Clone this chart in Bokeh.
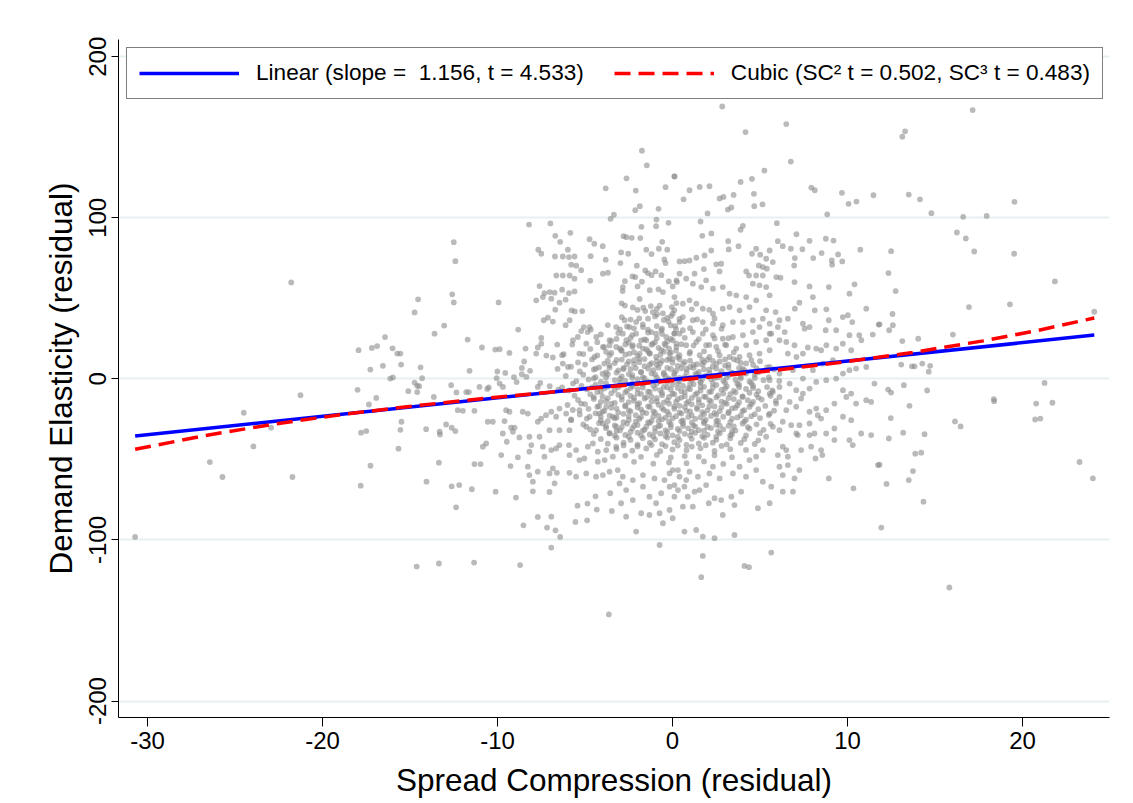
import math
from bokeh.plotting import figure
from bokeh.models import Range1d, FixedTicker, Legend, LegendItem
from bokeh.embed import file_html
from bokeh.resources import INLINE

FONT = "Liberation Sans"

# ---------------- data ----------------
x_ticks = [-30, -20, -10, 0, 10, 20]
x_tick_labels = ["-30", "-20", "-10", "0", "10", "20"]
y_ticks = [-200, -100, 0, 100, 200]
y_tick_labels = ["-200", "-100", "0", "100", "200"]

# fitted lines
fit_x = [-30.71, 24.10]
linear_y = [-35.5, 27.2]
cubic_x = [-30.71, -26.67, -22.63, -18.60, -14.56, -10.52, -6.48, -2.44, 1.60, 5.64, 9.68, 13.72, 17.75, 20.78, 24.10]
cubic_y = [-43.7, -35.1, -27.8, -21.7, -16.5, -11.9, -7.7, -3.7, 0.5, 5.1, 10.3, 16.4, 23.6, 29.9, 37.8]

linear_label = "Linear (slope =  1.156, t = 4.533)"
cubic_label = "Cubic (SC\u00b2 t = 0.502, SC\u00b3 t = 0.483)"

# scatter: upper-left part
ul_x = [
    -3.82, -3.54, -3.35, -8.20, -6.98, -6.70, -6.42, -5.84, -4.74, -4.47,
    -3.99, -7.67, -7.50, -5.98, -6.72, -6.27, -5.92, -5.60, -4.68, -3.82,
    -5.79, -5.50, -5.22, -6.64, -6.27, -5.88, -5.60, -4.70, -3.98, -3.69,
    -7.60, -7.79, -7.41, -7.32, -7.02, -6.74, -6.31, -5.92, -5.60, -6.93,
    -6.46, -6.11, -6.70, -5.77, -5.58, -5.16, -7.36, -7.12, -6.84, -6.11,
    -5.88, -8.82, -9.94, -12.50, -12.41, -12.59, -12.50, -14.54, -14.74, -13.60,
    -13.05, -11.71, -10.89, -10.13, -9.88, -9.32, -21.79, -21.26, -17.94, -17.18,
    -16.88, -16.43, -16.00, -15.73, -15.55, -15.51, -17.27, -16.55, -16.13, -15.98,
    -14.40, -14.31, -14.74, -14.59, -14.48, -15.10, -14.59, -18.00, -16.93, -12.65,
    -11.60, -12.35, -11.79, -11.64, -13.64, -11.03, -10.59, -10.50, -10.05, -10.01,
    -9.56, -9.88, -9.69, -9.06, -8.91, -8.61, -8.35, -8.14, -8.48, -8.61,
    -8.40, -7.79, -7.70, -7.50, -7.50, -7.21, -6.84, -6.59, -6.31, -6.22,
    -6.27, -6.57, -5.98, -5.73, -5.41, -5.22, -5.07, -4.85, -4.67, -7.56,
    -7.70, -7.02, -6.53, -6.31, -5.69,
]
ul_y = [
    118.3, 99.4, 101.9, 95.8, 96.5, 88.8, 85.1, 90.7, 86.7, 83.9,
    82.4, 80.2, 77.7, 80.2, 76.0, 76.0, 75.6, 76.0, 76.2, 74.0,
    70.9, 70.3, 67.5, 64.2, 64.2, 64.2, 62.2, 61.0, 65.3, 65.9,
    57.6, 48.8, 50.8, 53.3, 53.9, 53.5, 55.4, 53.3, 54.3, 49.8,
    47.3, 49.2, 43.0, 42.6, 41.9, 42.1, 36.4, 38.0, 35.6, 33.3,
    36.4, 30.6, 47.5, 84.9, 73.1, 52.5, 47.5, 49.4, 41.3, 28.1,
    33.1, 24.4, 19.5, 18.2, 18.4, 16.1, 59.9, -10.1, 17.8, 19.2,
    20.4, 26.0, 19.0, 15.7, 15.7, 8.9, 5.8, 8.1, 0.2, 0.9,
    7.2, 0.4, -2.3, -4.3, -4.5, -7.6, -8.2, -6.8, -11.8, -3.9,
    5.0, -8.4, -8.2, -8.2, -11.2, -5.0, -6.2, -5.3, 0.4, 4.6,
    3.7, -2.9, -5.0, 1.1, -2.0, 2.9, 1.2, 5.0, 10.8, 6.8,
    18.8, 15.7, 19.5, 25.4, 21.9, 14.5, 13.3, 21.3, 14.7, 15.3,
    9.5, 6.2, 7.4, 21.3, 26.0, 29.7, 32.2, 29.1, 30.6, -2.5,
    -5.0, -4.5, -6.6, -5.3, -2.9,
]

# scatter: lower-left part
ll_x = [
    -30.71, -24.50, -23.95, -26.44, -25.72, -21.72, -22.94, -17.35, -17.80, -17.50,
    -17.26, -17.82, -15.66, -15.55, -15.49, -14.08, -13.35, -14.06, -13.29, -13.31,
    -12.94, -12.62, -12.41, -12.62, -12.19, -12.37, -11.47, -10.11, -12.27, -11.98,
    -14.62, -13.35, -11.34, -8.71, -3.64, -8.52, -7.70, -6.93, -7.17, -6.69,
    -6.42, -6.93, -5.55, -4.88, -4.33, -3.47, -4.40, -4.86, -5.43, -8.95,
    -7.98, -7.03, -7.98, -6.74, -3.56,
]
ll_y = [
    -98.1, -21.0, -41.9, -51.6, -60.9, -60.9, -30.3, -15.9, -33.4, -32.4,
    -53.9, -66.3, -43.3, -31.6, -26.6, -31.2, -52.0, -63.8, -34.5, -32.8,
    -28.3, -30.3, -32.4, -66.7, -65.9, -79.7, -68.5, -70.0, -19.4, -19.8,
    -116.5, -114.6, -114.0, -115.6, -146.2, -90.9, -85.7, -85.5, -92.3, -94.0,
    -98.1, -104.7, -88.8, -87.8, -81.1, -82.0, -72.9, -77.4, -78.7, -73.7,
    -69.8, -70.2, -63.8, -64.8, -71.0,
]

# scatter: lower-middle part
lm_x = [
    -11.32, -10.56, -10.27, -9.60, -9.23, -9.03, -9.51, -9.32, -9.70, -9.47,
    -9.12, -10.84, -10.65, -11.32, -10.97, -9.79, -9.26, -8.84, -8.75, -8.56,
    -8.27, -7.70, -7.51, -7.23, -6.93, -6.65, -6.46, -6.08, -5.79, -5.32,
    -5.22, -8.18, -7.60, -8.07, -8.18, -7.41, -7.32, -6.93, -6.65, -6.46,
    -5.92, -5.89, -5.51, -5.32, -5.04, -4.84, -4.55, -4.27, -4.27, -3.88,
    -3.79, -3.41, -3.22, -8.27, -8.18, -7.70, -7.03, -6.84, -6.61, -5.89,
    -5.51, -4.93, -4.37, -3.98, -3.60, -3.13, -4.37, -4.93, -3.98, -3.60,
    -3.22, -4.74, -4.18, -3.79, -3.41, -5.89, -6.46, -7.03, -3.03, -2.65,
    -2.27, -1.69, -1.32, -0.94, -0.65, -0.17, 0.11, -0.17, -0.74, -1.32,
    -1.79, -2.08, -0.74, -2.65, -2.94, -0.55, 0.01, -0.46, -1.03, -1.69,
    -2.27, -2.84, -0.17, 0.31,
]
lm_y = [
    -19.8, -26.6, -26.6, -26.2, -30.2, -30.2, -19.4, -20.4, -33.9, -39.0,
    -32.8, -42.1, -40.1, -52.9, -52.9, -47.3, -54.1, -48.7, -36.3, -20.4,
    -21.5, -26.6, -24.6, -22.5, -20.4, -23.5, -18.4, -21.5, -25.6, -19.4,
    -15.3, -35.9, -35.9, -41.1, -45.2, -42.1, -48.3, -44.2, -43.2, -41.1,
    -41.1, -47.3, -44.2, -50.4, -49.4, -42.1, -40.1, -45.2, -51.4, -50.4,
    -44.2, -48.3, -42.1, -54.5, -59.7, -57.6, -58.7, -55.6, -58.3, -58.3,
    -60.7, -58.7, -60.7, -59.7, -57.6, -56.6, -31.8, -29.7, -27.7, -33.9,
    -29.7, -23.5, -21.5, -17.3, -23.5, -31.8, -31.8, -31.8, -64.9, -69.0,
    -75.2, -66.9, -73.1, -77.2, -71.0, -66.9, -73.1, -81.4, -83.4, -84.5,
    -83.4, -94.8, -103.1, -85.5, -77.2, -89.6, -86.5, -62.8, -61.8, -59.7,
    -62.8, -60.7, -58.7, -56.6,
]

# scatter: upper-middle part (left of zero)
um_x = [
    -1.75, -1.47, -2.63, 0.11, -0.40, -2.10, -2.13, -1.87, -0.80, -0.92,
    -0.23, -1.78, -0.94, -2.80, -2.64, -2.33, -1.84, -0.59, -0.78, -0.30,
    -1.50, -1.20, -2.94, -2.53, -0.47, -0.40, -2.98, -2.04, -1.56, -1.41,
    -0.97, -0.64, -1.20, -2.29, -2.13, -1.75, -2.72, -0.21, 0.25, -2.84,
    -2.85, -1.30, -0.80, -0.55, 0.01, -2.00, -2.91, -2.72, -1.88, -2.27,
    -1.67, -1.24, -0.74, -1.56, -1.13, -0.88, -0.55, -0.04, 0.22, -0.08,
    -0.23, 0.15, 0.40, -2.74, -2.46, -2.08, -1.69, -1.22, -0.94, -0.64,
    -0.36, 0.01, -1.50, -1.13, -2.64, -2.27, -2.08, 0.22, -0.17, -0.64,
    -1.31, -1.88, -2.46, -2.94, -2.84, 0.40, -0.46, -1.69, -0.94, -0.17,
    0.31, -4.74, -4.36, -3.60, -3.22, -3.98, -4.93, -5.32, -3.60, -4.46,
    -3.22, -5.69,
]
um_y = [
    141.7, 132.6, 124.5, 125.8, 119.0, 116.9, 104.7, 107.2, 105.6, 98.9,
    96.9, 94.4, 94.8, 88.6, 88.0, 87.6, 87.4, 85.1, 80.8, 80.2,
    80.2, 77.5, 78.5, 77.7, 74.2, 71.9, 71.9, 70.3, 67.3, 65.7,
    66.7, 64.4, 64.4, 63.6, 63.2, 60.3, 60.7, 60.5, 60.1, 57.0,
    54.5, 55.1, 55.6, 53.9, 57.4, 57.4, 46.9, 45.5, 49.6, 44.4,
    44.2, 45.2, 45.5, 42.1, 41.5, 40.1, 40.7, 44.6, 47.1, 39.0,
    35.6, 32.8, 35.3, 36.4, 32.2, 35.3, 32.2, 29.1, 28.1, 30.2,
    26.0, 24.0, 24.0, 21.9, 24.0, 20.9, 28.1, 19.8, 15.7, 17.8,
    15.7, 15.7, 15.7, 17.8, 28.1, 28.1, 21.9, 18.8, 13.6, 12.6,
    13.6, 32.2, 26.0, 24.0, 32.2, 19.8, 21.9, 15.7, 14.7, 13.6,
    19.8, 24.0,
]

# scatter: upper-right of zero
ur_x = [
    0.11, 0.63, 0.97, 1.55, 2.11, 2.00, 2.69, 2.91, 3.49, 3.16,
    3.36, 3.89, 4.54, 5.25, 6.76, 4.65, 4.67, 5.14, 7.93, 8.13,
    9.68, 10.06, 10.51, 11.48, 8.84, 1.60, 1.70, 2.22, 3.89, 4.02,
    5.96, 7.08, 7.83, 8.76, 9.20, 10.73, 3.18, 3.21, 3.77, 2.21,
    4.54, 4.78, 5.01, 5.55, 6.02, 6.30, 6.76, 7.42, 6.99, 6.95,
    8.04, 8.52, 9.10, 9.12, 9.70, 9.46, 0.40, 0.69, 0.97, 1.36,
    1.83, 2.50, 2.78, 2.69, 1.79, 1.26, 0.40, 4.21, 4.37, 4.78,
    5.16, 5.16, 4.93, 5.39, 5.73, 5.35, 5.93, 6.17, 6.97, 7.83,
    8.02, 8.93, 10.40, 11.07, 10.11, 10.02, 10.27, 9.73, 7.25, 8.13,
    8.79, 8.93, 8.75, 9.35, 10.11, 10.67, 11.44, 10.79, 11.78, 7.45,
    7.55, 7.83, 8.21, 8.49, 8.79, 9.35, 9.73, 10.21, 6.59, 6.99,
    6.11, 5.89, 5.35, 5.55, 5.64, 6.02, 6.41, 6.50, 6.97, 7.45,
    7.73, 7.08, 6.59,
]
ur_y = [
    125.6, 111.5, 117.1, 119.2, 119.6, 102.7, 112.0, 113.0, 114.2, 105.1,
    106.4, 122.3, 124.2, 129.3, 134.9, 114.9, 107.2, 108.4, 118.8, 117.1,
    115.5, 108.7, 110.1, 114.0, 102.2, 97.7, 88.8, 90.3, 92.6, 95.0,
    96.7, 89.8, 85.7, 87.0, 85.9, 80.2, 85.5, 80.4, 82.4, 79.7,
    77.7, 80.8, 77.1, 79.7, 85.5, 82.4, 80.8, 80.5, 75.0, 70.4,
    75.0, 78.1, 73.5, 70.9, 72.9, 77.3, 72.9, 73.1, 73.5, 75.2,
    76.6, 71.1, 71.5, 66.7, 68.2, 65.3, 65.3, 66.7, 64.2, 64.2,
    64.2, 69.4, 70.4, 68.4, 72.5, 74.6, 63.2, 62.8, 60.1, 57.4,
    50.8, 57.0, 58.7, 43.6, 52.9, 39.5, 35.3, 38.4, 47.3, 42.6,
    43.2, 36.4, 30.2, 30.2, 27.1, 27.1, 27.5, 24.0, 33.7, 34.3,
    31.2, 32.2, 18.8, 17.8, 20.9, 18.8, 21.9, 17.8, 37.4, 43.6,
    36.4, 41.5, 42.6, 34.3, 28.1, 32.2, 29.1, 22.9, 20.9, 15.7,
    19.5, 13.6, 15.7,
]

# scatter: dense band just above the fit, right of zero
ud_x = [
    0.22, 0.78, 1.16, 1.64, 1.92, 2.31, 2.87, 3.26, 3.64, 4.21,
    4.59, 4.97, 5.35, 5.55, 4.78, 4.40, 3.83, 3.26, 2.87, 2.31,
    1.73, 1.36, 0.97, 0.59, 0.11, 0.01, 0.59, 1.16, 1.73, 2.31,
    2.87, 3.45, 4.02, 4.59, 5.16, 4.97, 4.59, 4.02, 3.45, 2.87,
    2.31, 1.73, 1.16, 0.59, 0.11, 0.22, 0.78, 1.36, 1.92, 2.50,
    3.07, 3.64, 4.21, 4.78, 5.35, 5.55, 4.97, 4.40, 3.83, 3.26,
    2.69, 2.11, 1.55, 0.97, 0.40, 5.55, 6.11,
]
ud_y = [
    61.2, 62.2, 59.1, 57.0, 61.2, 56.0, 57.0, 52.9, 51.9, 50.8,
    59.1, 58.1, 57.0, 51.9, 48.8, 44.6, 42.6, 44.6, 43.6, 40.5,
    43.6, 46.7, 48.8, 46.7, 50.8, 40.5, 38.4, 36.4, 35.3, 34.3,
    33.3, 35.3, 35.3, 36.4, 37.4, 32.2, 29.1, 27.1, 26.0, 25.0,
    27.1, 28.1, 29.1, 30.2, 28.1, 21.9, 20.9, 22.9, 20.9, 19.8,
    20.9, 18.8, 20.9, 22.9, 24.0, 17.8, 15.7, 14.7, 13.6, 13.6,
    14.7, 13.6, 14.7, 15.7, 14.7, 28.1, 24.0,
]

# scatter: far right, upper
fr_x = [
    2.84, 6.50, 4.17, 17.15, 13.13, 13.29, 13.50, 14.14, 14.79, 19.54,
    16.61, 17.95, 16.25, 16.76, 17.24, 19.52, 12.49, 12.34, 12.75, 21.85,
    16.94, 19.28, 24.10, 12.57, 11.83, 12.38, 12.59, 16.02, 13.13, 14.04,
    13.07, 13.68, 13.83, 14.27, 14.72, 14.64, 13.22, 14.55, 12.32, 12.49,
    21.26, 18.36,
]
fr_y = [
    169.1, 158.2, 153.2, 166.9, 150.4, 153.7, 114.4, 111.5, 102.9, 109.9,
    100.6, 101.2, 90.9, 87.2, 79.1, 77.7, 79.3, 65.7, 54.5, 60.5,
    44.6, 46.3, 41.7, 40.3, 33.9, 30.2, 33.3, 27.5, 23.5, 25.0,
    8.9, 7.8, 7.8, 9.5, 8.1, 4.5, -3.9, -7.2, -6.6, -8.5,
    -2.5, -12.6,
]

# scatter: far right, lower
lr_x = [
    1.64, 15.82, 11.93, 14.34, 13.50, 13.74, 13.87, 14.21, 13.18, 14.40,
    12.36, 12.47, 12.23, 13.54, 16.14, 16.46, 18.38, 20.78, 21.71, 20.72,
    21.02, 23.26, 24.02, 11.83,
]
lr_y = [
    -123.1, -129.5, -92.3, -76.2, -62.8, -57.2, -46.4, -45.8, -33.4, -34.3,
    -37.0, -24.3, -65.2, -16.7, -26.4, -29.5, -13.8, -15.3, -14.8, -25.2,
    -24.6, -51.6, -61.7, -53.3,
]

# scatter: lower-right of zero
rm_x = [
    11.54, 11.07, 11.35, 10.21, 10.49, 9.74, 9.93, 9.25, 8.78, 8.21,
    8.49, 10.21, 9.74, 9.25, 10.11, 10.78, 11.35, 10.30, 9.25, 8.78,
    7.83, 8.11, 8.49, 8.56, 8.17, 7.92, 7.35, 7.16, 6.78, 7.25,
    7.83, 6.30, 6.11, 6.30, 6.50, 6.02, 6.59, 6.11, 7.25, 6.97,
    6.59, 6.30, 6.30, 6.88, 5.64, 5.55, 4.88, 3.92, 3.36, 2.78,
    2.40, 2.07, 2.87, 3.54, 1.92, 1.54, 0.68, 1.16, 0.68, 1.35,
    1.73, 2.40, 3.54, 1.73, 5.64, 4.11, 4.37, 8.93, 10.34, 11.74,
    7.83, 8.30, 7.07, 7.35, 6.69, 6.11, 7.83, 8.21, 8.78, 9.35,
    9.74, 10.11, 10.49, 11.07, 8.02, 8.59, 9.16, 6.69, 7.07, 6.11,
    5.73, 5.55, 7.45, 0.01, 0.40, 0.97, 0.31, 0.87, 0.59, 1.45,
    2.11, 2.69, 3.45, 4.20, 4.78, 5.16, 3.83, 2.31, 4.40, 0.78,
    0.11, 1.26, 5.55, 6.11, 5.92, 5.55, 5.73, 5.35, 5.16, 4.78,
    6.50, 6.88, 7.45, 7.07, 5.55,
]
rm_y = [
    -2.9, -13.2, -14.3, -9.1, -15.3, -7.0, -11.2, -15.3, -19.4, -18.4,
    -24.6, -25.6, -23.5, -30.8, -38.0, -33.9, -34.9, -41.1, -38.0, -33.9,
    -34.9, -33.9, -44.2, -47.3, -49.4, -42.1, -44.2, -34.9, -28.7, -28.7,
    -27.7, -26.6, -31.8, -42.1, -44.2, -47.3, -48.3, -54.5, -56.6, -61.8,
    -53.5, -59.7, -70.0, -70.0, -66.9, -77.2, -80.3, -70.0, -73.1, -75.2,
    -74.1, -77.2, -84.5, -78.3, -65.9, -69.0, -66.9, -79.3, -94.8, -93.8,
    -97.9, -98.9, -96.9, -109.9, -107.8, -116.1, -116.9, -61.8, -67.9, -53.5,
    -20.4, -22.5, -17.3, -12.2, -14.3, -11.2, -6.0, -1.9, -0.8, 0.2,
    3.3, 5.4, 6.4, 7.4, 5.4, 9.5, 11.6, -2.9, -7.0, -5.0,
    -8.1, -0.8, 0.2, -56.6, -60.7, -57.6, -69.0, -73.1, -79.3, -60.7,
    -58.7, -61.8, -58.7, -60.7, -56.6, -63.8, -54.5, -54.5, -50.4, -62.8,
    -65.9, -70.0, 7.4, 3.3, -15.3, -21.5, -29.7, -35.9, -44.2, -48.3,
    -19.4, 5.4, -9.1, -33.9, -9.1,
]

# scatter: dense core, row by row
core_x = [
    -5.4, -4.6, -3.9, -3.2, -2.5, -1.9, -1.2, -0.6, 0.0, 0.7, 1.4, 2.0, 2.7, 3.5, 4.2, 5.0,
    -5.8, -5.0, -4.2, -3.6, -2.8, -2.2, -1.6, -0.9, -0.3, 0.3, 1.0, 1.7, 2.3, 3.0, 3.8, 4.6, 5.4,
    -5.3, -4.5, -3.8, -3.1, -2.4, -1.8, -1.1, -0.5, 0.2, 0.8, 1.5, 2.1, 2.8, 3.4, 4.1, 4.9, 5.8,
    -6.1, -5.1, -4.4, -3.7, -2.9, -2.3, -1.7, -1.0, -0.4, 0.1, 0.7, 1.3, 1.9, 2.6, 3.2, 3.9, 4.7, 5.5,
    -5.5, -4.8, -4.1, -3.3, -2.7, -2.0, -1.4, -0.8, -0.2, 0.4, 1.1, 1.6, 2.2, 2.9, 3.6, 4.4, 5.2, 6.1,
    -5.2, -4.4, -3.7, -3.0, -2.3, -1.7, -1.1, -0.5, 0.0, 0.6, 1.2, 1.8, 2.5, 3.1, 3.8, 4.6, 5.4,
    -5.9, -4.9, -4.1, -3.3, -2.6, -2.0, -1.4, -0.7, -0.1, 0.5, 1.0, 1.6, 2.2, 2.8, 3.5, 4.2, 4.9, 5.7,
    -5.6, -4.7, -4.0, -3.1, -2.4, -1.8, -1.2, -0.6, 0.1, 0.7, 1.3, 1.9, 2.6, 3.3, 4.0, 4.8, 5.6,
    -5.4, -4.5, -3.8, -2.9, -2.2, -1.6, -0.9, -0.3, 0.3, 0.9, 1.5, 2.1, 2.8, 3.5, 4.3, 5.1, 5.9,
    -6.0, -5.0, -4.2, -3.5, -2.7, -2.0, -1.4, -0.8, -0.2, 0.4, 1.1, 1.7, 2.4, 3.1, 3.7, 4.5, 5.3,
    -5.7, -4.8, -3.9, -3.2, -2.5, -1.8, -1.1, -0.5, 0.1, 0.8, 1.4, 2.0, 2.7, 3.4, 4.1, 4.9, 5.8,
    -5.3, -4.4, -3.6, -2.8, -2.1, -1.5, -0.8, -0.2, 0.5, 1.1, 1.8, 2.5, 3.2, 3.9, 4.7, 5.5,
    -5.8, -4.9, -4.1, -3.3, -2.5, -1.9, -1.2, -0.6, 0.0, 0.6, 1.3, 1.9, 2.6, 3.4, 4.2, 5.0,
    -5.1, -4.2, -3.3, -2.6, -2.0, -1.3, -0.7, -0.1, 0.6, 1.2, 1.8, 2.5, 3.2, 4.0, 4.8, 5.6,
    -4.7, -3.8, -3.0, -2.3, -1.6, -1.0, -0.4, 0.3, 0.9, 1.5, 2.2, 2.9, 3.6, 4.4, 5.2,
    -4.5, -3.6, -2.7, -2.0, -1.3, -0.7, 0.0, 0.7, 1.3, 2.0, 2.7, 3.4, 4.2, 5.0,
    -4.1, -3.2, -2.4, -1.7, -1.0, -0.3, 0.4, 1.1, 1.8, 2.5, 3.3, 4.1, 4.9,
    -3.7, -2.8, -2.0, -1.3, -0.6, 0.1, 0.8, 1.5, 2.3, 3.1, 3.9, 4.7,
    -3.2, -2.3, -1.5, -0.7, 0.0, 0.8, 1.6, 2.4, 3.3, 4.2,
    -2.7, -1.8, -0.9, -0.1, 0.7, 1.5, 2.4, 3.4,
    -2.2, -1.1, -0.2, 0.8, 1.8, 2.9,
    -5.1, -4.3, -3.5, -2.7, -2.0, -1.3, -0.7, -0.1,
    -4.7, -3.9, -3.0, -2.3, -1.5, -0.8, -0.2,
    -4.3, -3.5, -2.5, -1.8, -1.0, -0.3,
    -4.1, -3.1, -2.3, -1.4, -0.6, 0.1,
    -3.7, -2.6, -1.7, -0.9, -0.1,
    -2.9, -1.9, -1.0, -0.3,
    -3.3, -2.6, -1.9, -1.3, -0.7, 0.0, 0.6, 1.2, 1.8, 2.5, 3.2, 3.9,
    -4.0, -3.2, -2.5, -1.8, -1.2, -0.5, 0.1, 0.8, 1.4, 2.1, 2.7, 3.4, 4.2,
    -3.8, -3.0, -2.3, -1.6, -0.9, -0.3, 0.3, 1.0, 1.6, 2.3, 3.0, 3.7, 4.5,
    -4.3, -3.5, -2.7, -2.0, -1.3, -0.6, 0.0, 0.7, 1.4, 2.1, 2.9, 3.6, 4.4,
    -4.1, -3.3, -2.5, -1.9, -1.2, -0.5, 0.2, 0.8, 1.5, 2.2, 3.0, 3.8, 4.6,
    -4.0, -3.1, -2.4, -1.7, -1.0, -0.3, 0.4, 1.0, 1.7, 2.4, 3.2, 4.0,
    -3.7, -2.8, -2.1, -1.4, -0.8, -0.2, 0.5, 1.1, 1.8, 2.5, 3.3, 4.1,
    -3.2, -2.4, -1.7, -1.0, -0.3, 0.4, 1.1, 1.8, 2.6, 3.4,
]
core_y = [
    10.2, 12.1, 9.5, 11.8, 10.9, 12.6, 9.8, 11.3, 12.4, 10.5, 9.1, 11.9, 10.8, 12.2, 9.6, 11.0,
    7.6, 8.9, 7.1, 8.4, 6.8, 9.2, 7.9, 8.6, 6.9, 8.1, 7.4, 9.0, 7.7, 8.3, 6.7, 8.8, 7.2,
    4.6, 5.8, 4.1, 5.3, 6.0, 4.4, 5.5, 3.9, 5.1, 6.2, 4.3, 5.7, 4.8, 3.8, 5.4, 4.2, 5.9,
    1.8, 2.6, 1.1, 2.9, 1.5, 2.3, 0.9, 2.8, 1.7, 2.4, 1.2, 3.0, 1.9, 0.8, 2.5, 1.4, 2.7, 1.0,
    -1.4, -0.3, -1.9, -0.7, -1.2, -0.1, -1.7, -0.9, -0.4, -1.5, -0.6, -1.8, -0.2, -1.1, -0.5, -1.6, -0.8, -1.3,
    -4.3, -3.5, -4.8, -3.9, -4.6, -3.2, -4.1, -5.0, -3.7, -4.4, -3.3, -4.9, -3.8, -4.5, -3.6, -4.2, -5.1,
    -7.2, -6.5, -7.8, -6.9, -7.5, -6.3, -7.9, -7.0, -6.6, -7.7, -6.4, -7.3, -8.0, -6.8, -7.4, -6.2, -7.6, -7.1,
    -10.4, -9.6, -10.9, -9.9, -10.6, -9.3, -11.0, -10.1, -9.5, -10.7, -9.8, -11.2, -10.3, -9.4, -10.8, -9.7, -10.5,
    -13.1, -12.4, -13.8, -12.9, -13.5, -12.2, -14.0, -13.3, -12.6, -13.9, -12.7, -13.4, -14.1, -12.5, -13.2, -12.8, -13.7,
    -16.2, -15.6, -16.9, -15.3, -16.5, -15.9, -17.0, -16.1, -15.4, -16.7, -15.8, -16.4, -17.1, -15.5, -16.3, -15.7, -16.8,
    -19.3, -18.6, -19.9, -18.4, -19.6, -18.9, -20.1, -19.2, -18.5, -19.8, -18.7, -19.5, -20.0, -18.3, -19.4, -18.8, -19.7,
    -22.1, -21.4, -22.8, -21.7, -22.5, -21.2, -22.9, -22.0, -21.5, -22.6, -21.8, -22.3, -21.3, -22.7, -21.9, -22.4,
    -25.2, -24.6, -25.8, -24.4, -25.5, -24.9, -26.0, -25.1, -24.5, -25.7, -24.8, -25.4, -26.1, -24.7, -25.3, -24.3,
    -28.3, -27.5, -28.9, -27.8, -28.6, -27.3, -29.0, -28.1, -27.6, -28.8, -27.4, -28.5, -29.1, -27.7, -28.2, -27.9,
    -31.4, -30.6, -31.9, -30.8, -31.5, -30.4, -32.0, -31.1, -30.7, -31.8, -30.5, -31.3, -32.1, -30.9, -31.6,
    -34.2, -33.6, -34.8, -33.4, -34.5, -33.9, -35.0, -34.1, -33.5, -34.7, -33.8, -34.4, -35.1, -33.7,
    -37.3, -36.5, -37.9, -36.8, -37.5, -36.4, -38.0, -37.2, -36.6, -37.7, -36.9, -37.4, -38.1,
    -40.2, -39.5, -40.8, -39.7, -40.5, -39.3, -41.0, -40.1, -39.6, -40.7, -39.8, -40.4,
    -43.5, -44.6, -43.2, -44.9, -43.8, -44.3, -43.1, -44.7, -43.6, -44.1,
    -47.6, -48.4, -47.2, -48.8, -47.9, -48.3, -47.4, -48.6,
    -51.5, -52.6, -51.9, -52.3, -51.2, -52.8,
    15.4, 14.6, 16.1, 15.0, 14.3, 15.8, 14.9, 16.3,
    18.6, 19.7, 18.9, 19.9, 18.4, 19.3, 18.8,
    22.8, 23.6, 22.4, 23.9, 22.7, 23.3,
    27.6, 28.5, 27.2, 28.8, 27.9, 28.3,
    33.4, 32.6, 33.9, 32.8, 33.2,
    38.3, 37.6, 38.8, 37.9,
    9.8, 9.1, 10.4, 8.9, 9.6, 10.1, 9.3, 8.7, 10.3, 9.4, 8.8, 9.9,
    3.2, 3.9, 3.0, 4.1, 3.4, 2.9, 3.7, 4.0, 3.1, 3.6, 2.8, 3.8, 3.3,
    -2.7, -2.1, -3.0, -2.4, -2.9, -2.0, -2.6, -3.1, -2.2, -2.8, -2.3, -3.0, -2.5,
    -8.2, -8.9, -8.4, -9.0, -8.1, -8.7, -9.2, -8.3, -8.8, -8.0, -9.1, -8.5, -8.6,
    -14.2, -14.9, -14.4, -15.0, -14.1, -14.7, -14.3, -15.1, -14.6, -14.0, -14.8, -14.5, -14.3,
    -20.3, -20.9, -20.1, -20.7, -21.0, -20.4, -20.8, -20.2, -20.6, -21.1, -20.5, -20.0,
    -26.2, -26.9, -26.4, -27.0, -26.1, -26.7, -26.3, -27.1, -26.6, -26.0, -26.8, -26.5,
    -32.3, -32.9, -32.1, -32.7, -33.0, -32.4, -32.8, -32.2, -32.6, -32.5,
]

# scatter: second pass over the dense core, row by row
core2_x = [
    -3.7, -2.9, -2.2, -1.6, -0.9, -0.3, 0.4, 1.0, 1.7, 2.3, 3.0, 3.7, 4.5,
    -4.4, -3.6, -2.8, -2.1, -1.4, -0.8, -0.1, 0.5, 1.2, 1.8, 2.5, 3.2, 4.0, 4.8,
    -4.5, -3.8, -3.0, -2.3, -1.6, -0.9, -0.2, 0.4, 1.0, 1.7, 2.4, 3.1, 3.9, 4.7,
    -4.6, -3.9, -3.1, -2.4, -1.7, -1.0, -0.3, 0.3, 0.9, 1.6, 2.3, 3.0, 3.8, 4.6,
    -4.5, -3.7, -2.9, -2.2, -1.5, -0.9, -0.2, 0.5, 1.1, 1.8, 2.5, 3.2, 4.0, 4.9,
    -4.3, -3.5, -2.7, -2.0, -1.3, -0.6, 0.1, 0.7, 1.4, 2.1, 2.8, 3.6, 4.4,
    -4.1, -3.2, -2.5, -1.8, -1.1, -0.4, 0.2, 0.9, 1.6, 2.2, 2.9, 3.7, 4.5,
    -3.8, -2.9, -2.2, -1.5, -0.8, -0.1, 0.6, 1.3, 2.0, 2.7, 3.5, 4.3,
    -3.3, -2.5, -1.8, -1.1, -0.4, 0.3, 1.0, 1.7, 2.5, 3.3,
    -2.8, -2.0, -1.2, -0.4, 0.3, 1.1, 1.9, 2.8,
    -3.8, -2.9, -2.2, -1.4, -0.5, 0.2, 1.0, 1.8, 2.6, 3.5,
    -3.6, -2.7, -1.9, -1.2, -0.4, 0.5, 1.2, 2.1, 3.0,
    -3.2, -2.4, -1.6, -0.9, -0.1, 0.7, 1.5, 2.4, 3.2,
    -3.0, -2.2, -1.4, -0.6, 0.2, 1.0, 1.9, 2.8,
    -2.4, -1.4, -0.5, 0.4, 1.4, 2.4,
    -2.0, -0.9, 0.1, 1.1, 2.1,
]
core2_y = [
    11.3, 12.0, 11.6, 12.3, 11.1, 11.8, 12.2, 11.4, 11.9, 11.2, 12.1, 11.5, 11.7,
    6.3, 6.9, 6.1, 6.7, 6.4, 7.0, 6.2, 6.6, 6.8, 6.0, 6.5, 6.9, 6.2, 6.6,
    0.3, 0.9, 0.1, 0.7, 0.4, 1.0, 0.2, 0.6, 0.8, 0.0, 0.5, 0.9, 0.2, 0.6,
    -5.3, -5.9, -5.1, -5.7, -5.4, -6.0, -5.2, -5.6, -5.8, -5.0, -5.5, -5.9, -5.2, -5.6,
    -11.3, -11.9, -11.1, -11.7, -11.4, -12.0, -11.2, -11.6, -11.8, -11.0, -11.5, -11.9, -11.2, -11.6,
    -17.3, -17.9, -17.1, -17.7, -17.4, -18.0, -17.2, -17.6, -17.8, -17.0, -17.5, -17.9, -17.3,
    -23.3, -23.9, -23.1, -23.7, -23.4, -24.0, -23.2, -23.6, -23.8, -23.0, -23.5, -23.9, -23.2,
    -29.3, -29.9, -29.1, -29.7, -29.4, -30.0, -29.2, -29.6, -29.8, -29.0, -29.5, -29.9,
    -35.3, -35.9, -35.1, -35.7, -35.4, -36.0, -35.2, -35.6, -35.8, -35.0,
    -41.3, -41.9, -41.1, -41.7, -41.4, -42.0, -41.2, -41.6,
    16.8, 17.4, 16.6, 17.2, 16.9, 17.5, 16.7, 17.1, 17.3, 16.5,
    20.8, 21.4, 20.6, 21.2, 20.9, 21.5, 20.7, 21.1, 21.3,
    24.8, 25.4, 24.6, 25.2, 24.9, 25.5, 24.7, 25.1, 25.3,
    30.8, 31.4, 30.6, 31.2, 30.9, 31.5, 30.7, 31.1,
    36.8, 37.4, 36.6, 37.2, 36.9, 37.5,
    42.8, 43.4, 42.6, 43.2, 42.9,
]

groups = [(ul_x, ul_y), (ll_x, ll_y), (lm_x, lm_y), (um_x, um_y), (ur_x, ur_y),
          (ud_x, ud_y), (fr_x, fr_y), (lr_x, lr_y), (rm_x, rm_y), (core_x, core_y),
          (core2_x, core2_y)]
sc_x, sc_y = [], []
for gx, gy in groups:
    n = min(len(gx), len(gy))
    if len(gx) != len(gy):
        print("length mismatch", len(gx), len(gy))
    sc_x += gx[:n]
    sc_y += gy[:n]

# ---------------- figure ----------------
p = figure(
    frame_width=991, frame_height=678,
    min_border_left=118, min_border_right=15, min_border_top=39, min_border_bottom=80,
    x_range=Range1d(-31.66, 24.97), y_range=Range1d(-210.2, 210.7),
    output_backend="svg", toolbar_location=None,
)
p.background_fill_color = "white"
p.border_fill_color = "white"
p.outline_line_color = None

p.xgrid.visible = False
p.ygrid.ticker = FixedTicker(ticks=y_ticks)
p.ygrid.grid_line_color = "#E6EFF1"
p.ygrid.grid_line_width = 2

for ax in (p.xaxis, p.yaxis):
    ax.axis_line_color = "black"
    ax.axis_line_width = 1
    ax.major_tick_line_color = "black"
    ax.major_tick_line_width = 1
    ax.minor_tick_line_color = None
    ax.major_tick_in = 0
    ax.major_label_text_font = FONT
    ax.major_label_text_font_size = "24px"
    ax.major_label_text_color = "black"
    ax.axis_label_text_font = FONT
    ax.axis_label_text_font_size = "31.5px"
    ax.axis_label_text_font_style = "normal"
    ax.axis_label_text_color = "black"

p.xaxis.ticker = FixedTicker(ticks=x_ticks)
p.yaxis.ticker = FixedTicker(ticks=y_ticks)
p.xaxis.major_label_overrides = {t: s for t, s in zip(x_ticks, x_tick_labels)}
p.yaxis.major_label_overrides = {t: s for t, s in zip(y_ticks, y_tick_labels)}
p.xaxis.major_tick_out = 9
p.yaxis.major_tick_out = 7
p.xaxis.major_label_standoff = 5
p.yaxis.major_label_standoff = 5
p.yaxis.major_label_orientation = "parallel"
p.xaxis.axis_label = "Spread Compression (residual)"
p.yaxis.axis_label = "Demand Elasticity (residual)"
p.xaxis.axis_label_standoff = 10
p.yaxis.axis_label_standoff = 8

p.scatter(sc_x, sc_y, size=5.8, fill_color="#8c8c8c", fill_alpha=0.6, line_color=None)

lin = p.line(fit_x, linear_y, line_color="#0000FF", line_width=3.5)
cub = p.line(cubic_x, cubic_y, line_color="#FF0000", line_width=3.5, line_dash="16 8")

legend = Legend(
    items=[LegendItem(label=linear_label, renderers=[lin]),
           LegendItem(label=cubic_label, renderers=[cub])],
    orientation="horizontal", location="top_left",
    border_line_color="black", border_line_width=1,
    background_fill_color="white", background_fill_alpha=1.0,
    label_text_font=FONT, label_text_font_size="22.6px", label_text_color="black",
    glyph_width=100, glyph_height=22, label_standoff=17, spacing=30,
    padding=12, margin=8,
)
p.add_layout(legend)

open("out.html", "w").write(file_html(p, INLINE))
